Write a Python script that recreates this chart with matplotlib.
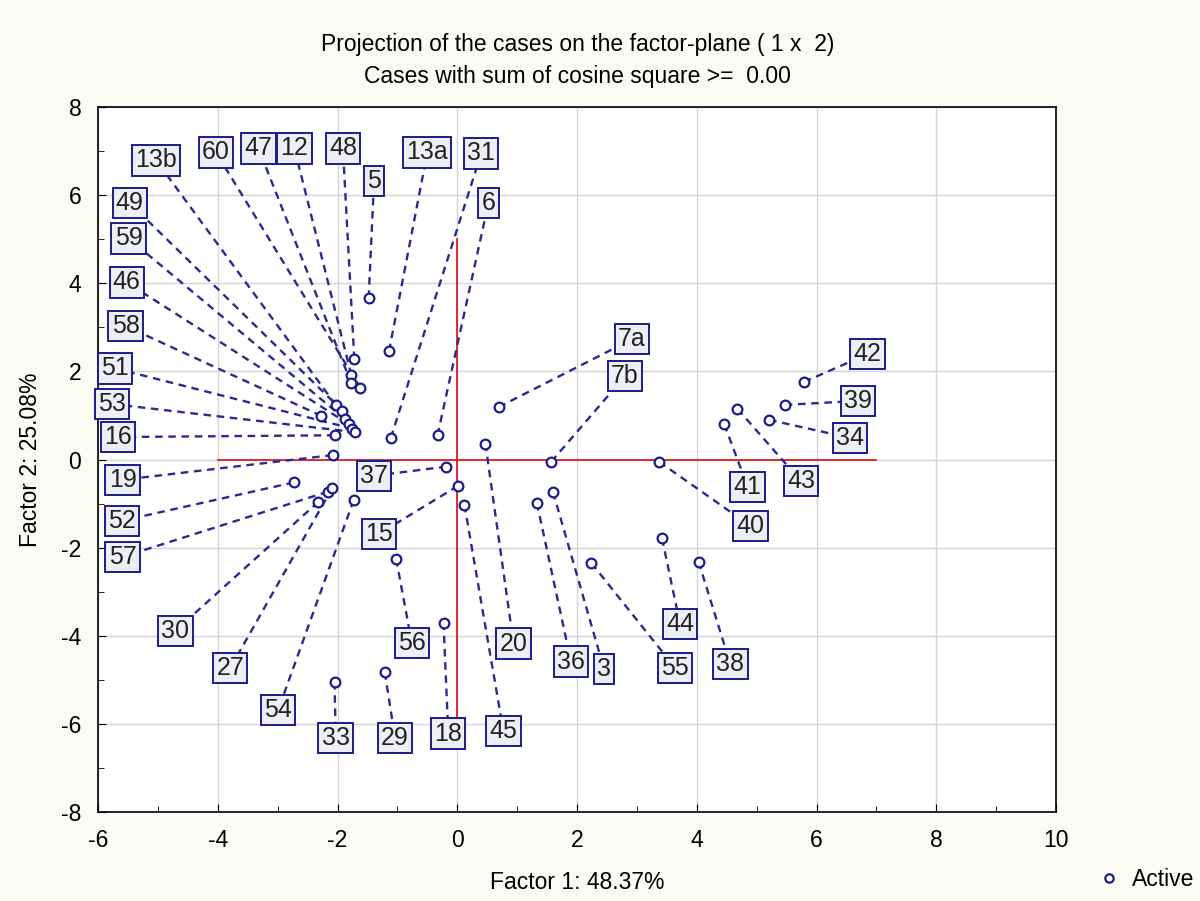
import matplotlib
matplotlib.use("Agg")
import matplotlib.pyplot as plt
from matplotlib.lines import Line2D

# ── Dados ──────────────────────────────────────────────────────────────────
CASOS = ['5', '13a', '48', '12', '47', '60', '13b', '49', '59', '46', '58',
         '51', '53', '16', '19', '31', '6', '7a', '20', '7b', '37', '15',
         '45', '52', '57', '30', '27', '54', '56', '18', '29', '33', '3',
         '36', '55', '40', '44', '38', '41', '43', '34', '39', '42']
FATOR1 = [-1.48, -1.14, -1.72, -1.77, -1.77, -1.62, -2.03, -1.92, -1.87,
          -1.81, -2.27, -1.75, -1.70, -2.05, -2.08, -1.11, -0.33, 0.69,
          0.47, 1.57, -0.18, 0.01, 0.12, -2.73, -2.16, -2.32, -2.09,
          -1.73, -1.02, -0.23, -1.21, -2.05, 1.60, 1.33, 2.24, 3.37, 3.42,
          4.03, 4.46, 4.68, 5.21, 5.47, 5.79]
FATOR2 = [3.67, 2.46, 2.28, 1.92, 1.73, 1.63, 1.24, 1.11, 0.91, 0.80, 0.99,
          0.70, 0.62, 0.55, 0.10, 0.49, 0.55, 1.19, 0.36, -0.05, -0.16,
          -0.60, -1.03, -0.52, -0.73, -0.96, -0.65, -0.92, -2.26, -3.70,
          -4.83, -5.05, -0.74, -0.99, -2.35, -0.05, -1.79, -2.32, 0.80,
          1.15, 0.90, 1.24, 1.76]

# posição das caixas de rótulo (layout)
POS_ROTULO = [(-1.39, 6.32), (-0.50, 6.97), (-1.91, 7.06), (-2.72, 7.06),
              (-3.32, 7.06), (-4.03, 6.97), (-5.03, 6.79), (-5.47, 5.82),
              (-5.49, 5.02), (-5.52, 4.02), (-5.54, 3.03), (-5.72, 2.07),
              (-5.77, 1.26), (-5.67, 0.51), (-5.59, -0.46), (0.40, 6.95),
              (0.52, 5.82), (2.92, 2.73), (0.94, -4.18), (2.80, 1.89),
              (-1.39, -0.37), (-1.31, -1.69), (0.77, -6.16), (-5.60, -1.39),
              (-5.59, -2.21), (-4.71, -3.89), (-3.79, -4.73), (-2.99, -5.68),
              (-0.76, -4.16), (-0.15, -6.22), (-1.04, -6.32), (-2.03, -6.32),
              (2.45, -4.75), (1.90, -4.59), (3.64, -4.73), (4.90, -1.51),
              (3.72, -3.73), (4.56, -4.64), (4.85, -0.62), (5.74, -0.49),
              (6.56, 0.49), (6.69, 1.33), (6.85, 2.39)]

TITULO = "Projection of the cases on the factor-plane ( 1 x  2)\nCases with sum of cosine square >=  0.00"
ROTULO_X = "Factor 1: 48.37%"
ROTULO_Y = "Factor 2: 25.08%"
# ───────────────────────────────────────────────────────────────────────────

AZUL = '#1c1c8c'
FUNDO = '#fcfbf3'

plt.rcParams['font.family'] = ['Liberation Sans', 'DejaVu Sans']
plt.rcParams['axes.unicode_minus'] = False

fig = plt.figure(figsize=(12, 9.01), dpi=100, facecolor=FUNDO)
ax = fig.add_axes([0.0817, 0.0988, 0.7983, 0.7824])
ax.set_facecolor('white')

ax.set_xlim(-6, 10)
ax.set_ylim(-8, 8)
ax.set_xticks(range(-6, 11, 2))
ax.set_yticks(range(-8, 9, 2))
ax.set_xticks(range(-5, 10, 2), minor=True)
ax.set_yticks(range(-7, 8, 2), minor=True)
ax.tick_params(which='major', direction='in', length=6, labelsize=16.5, pad=12)
ax.tick_params(which='minor', direction='in', length=4)
ax.grid(True, which='major', color='#d4d4d4', linewidth=1.0)
ax.set_axisbelow(True)
for s in ax.spines.values():
    s.set_color('black')
    s.set_linewidth(1.2)

# eixos vermelhos
ax.plot([-4, 7], [0, 0], color='#d01010', linewidth=1.2, zorder=2)
ax.plot([0, 0], [-6, 5], color='#d01010', linewidth=1.2, zorder=2)

# linhas tracejadas ponto -> rótulo
for x, y, (lx, ly) in zip(FATOR1, FATOR2, POS_ROTULO):
    ax.plot([x, lx], [y, ly], color='#2a2a90', linewidth=1.7,
            dashes=(3.2, 2.4), zorder=3)

for caso, (lx, ly) in zip(CASOS, POS_ROTULO):
    ax.text(lx, ly, caso, ha='center', va='center', fontsize=18,
            color='#222222', zorder=4,
            bbox=dict(boxstyle='square,pad=0.13', facecolor='#eeeef6',
                      edgecolor=AZUL, linewidth=1.4))

ax.plot(FATOR1, FATOR2, linestyle='none', marker='o', markersize=7,
        markerfacecolor='white', markeredgecolor=AZUL, markeredgewidth=1.6,
        zorder=5)

fig.text(0.481, 0.933, TITULO, ha='center', va='center', fontsize=16.5,
         linespacing=1.5)
ax.set_xlabel(ROTULO_X, fontsize=16.5, labelpad=14)
ax.set_ylabel(ROTULO_Y, fontsize=16.5, labelpad=14)

handle = Line2D([], [], linestyle='none', marker='o', markersize=6,
                markerfacecolor='white', markeredgecolor=AZUL,
                markeredgewidth=1.6)
fig.legend([handle], ['Active'], loc='center', bbox_to_anchor=(0.955, 0.024),
           frameon=False, fontsize=16.5, handlelength=1.0, handletextpad=0.5)

fig.savefig('out.png', dpi=100, facecolor=FUNDO)
